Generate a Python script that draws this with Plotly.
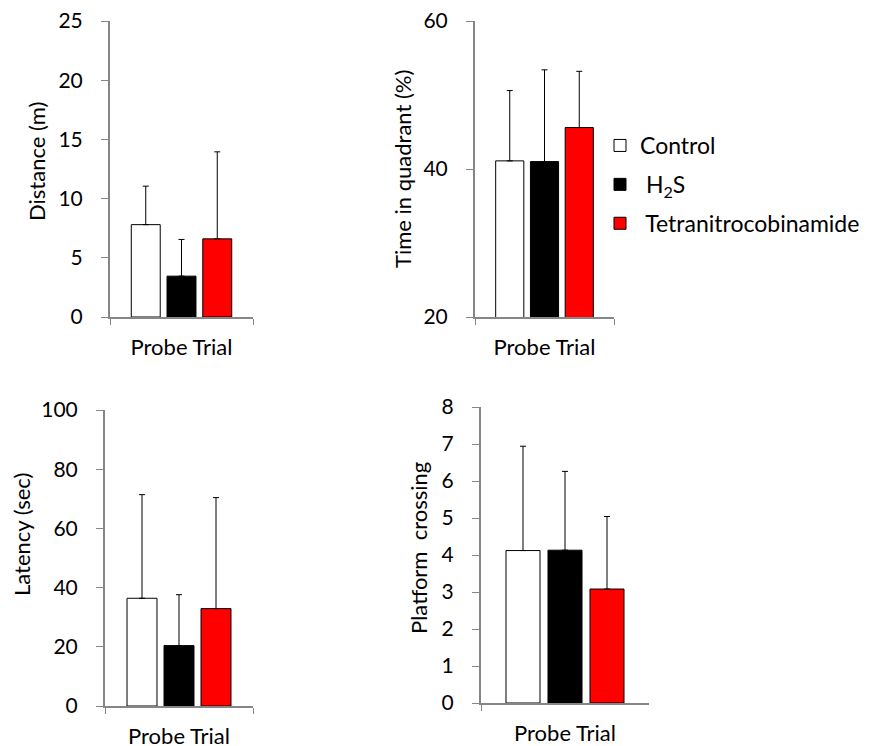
import plotly.graph_objects as go

groups = ["Control", "H<sub>2</sub>S", "Tetranitrocobinamide"]
legend_names = ["Control", "\u00a0H<sub>2</sub>S", "\u00a0Tetranitrocobinamide"]
colors = ["#FFFFFF", "#000000", "#FF0000"]
category = ["Probe Trial"]

distance_mean = [7.8, 3.45, 6.6]
distance_err = [3.25, 3.1, 7.35]
time_mean = [41.1, 41.0, 45.6]
time_err = [9.5, 12.4, 7.6]
latency_mean = [36.4, 20.4, 32.9]
latency_err = [35.0, 17.2, 37.5]
crossing_mean = [4.12, 4.13, 3.08]
crossing_err = [2.82, 2.13, 1.96]

# the page body has an 8px margin: figure coordinates are screen pixels minus 8
OFF = 8
panels = [
    dict(mean=distance_mean, err=distance_err, title="Distance (m)", rng=[0, 25], dtick=5,
         xd=[110, 253], yd=[21, 317], tpos=(36, 162)),
    dict(mean=time_mean, err=time_err, title="Time in quadrant (%)", rng=[20, 60], dtick=20,
         xd=[475, 614], yd=[21, 317], tpos=(402, 169)),
    dict(mean=latency_mean, err=latency_err, title="Latency (sec)", rng=[0, 100], dtick=20,
         xd=[105, 253], yd=[410, 706], tpos=(21, 535)),
    dict(mean=crossing_mean, err=crossing_err, title="Platform  crossing", rng=[0, 8], dtick=1,
         xd=[481, 649], yd=[407, 703], tpos=(418, 548)),
]

W, H = 875, 746
FONT = "Lato, 'Open Sans', sans-serif"
AXIS_COLOR = "#868686"


def px(v):
    return (v - OFF) / W


def py(v):
    return 1 - (v - OFF) / H


fig = go.Figure()
layout = dict(
    template="none",
    width=W, height=H,
    margin=dict(l=0, r=0, t=0, b=0, pad=0),
    paper_bgcolor="white", plot_bgcolor="white",
    barmode="group", bargap=0.25, bargroupgap=0.19,
    font=dict(family=FONT, size=20, color="black"),
    showlegend=True,
    legend=dict(x=px(600), y=py(124), xanchor="left", yanchor="top",
                font=dict(size=23, color="black"), traceorder="grouped",
                tracegroupgap=6, bgcolor="rgba(0,0,0,0)", itemwidth=30),
    annotations=[],
)

for i, p in enumerate(panels):
    ax = "" if i == 0 else str(i + 1)
    for j in range(3):
        fig.add_trace(go.Bar(
            x=category, y=[p["mean"][j]],
            name=legend_names[j], legendgroup=groups[j],
            showlegend=(i == 0),
            marker=dict(color=colors[j], line=dict(color="black", width=1)),
            error_y=dict(type="data", symmetric=False, array=[p["err"][j]], arrayminus=[0],
                         color="black", thickness=1, width=3),
            xaxis="x" + ax, yaxis="y" + ax,
            offsetgroup=str(j),
        ))
    layout["xaxis" + ax] = dict(
        domain=[px(p["xd"][0]), px(p["xd"][1])], anchor="y" + ax,
        type="category", showline=True, linecolor=AXIS_COLOR, linewidth=2,
        ticks="outside", tickson="boundaries", ticklen=6, tickcolor=AXIS_COLOR,
        tickfont=dict(size=22), ticklabelstandoff=10, automargin=False,
        ticklabeloverflow="allow",
        showgrid=False, zeroline=False, fixedrange=True,
    )
    layout["yaxis" + ax] = dict(
        domain=[py(p["yd"][1]), py(p["yd"][0])], anchor="x" + ax,
        range=p["rng"], dtick=p["dtick"], tick0=0,
        showline=True, linecolor=AXIS_COLOR, linewidth=2,
        ticks="outside", ticklen=7, tickcolor=AXIS_COLOR,
        tickfont=dict(size=21), ticklabelstandoff=14, automargin=False,
        ticklabeloverflow="allow",
        showgrid=False, zeroline=False, fixedrange=True,
    )
    layout["annotations"].append(dict(
        text=p["title"], x=px(p["tpos"][0]), y=py(p["tpos"][1]),
        xref="paper", yref="paper", textangle=-90, showarrow=False,
        xanchor="center", yanchor="middle", font=dict(size=22, color="black"),
    ))

fig.update_layout(**layout)
fig.write_html("out.html")
